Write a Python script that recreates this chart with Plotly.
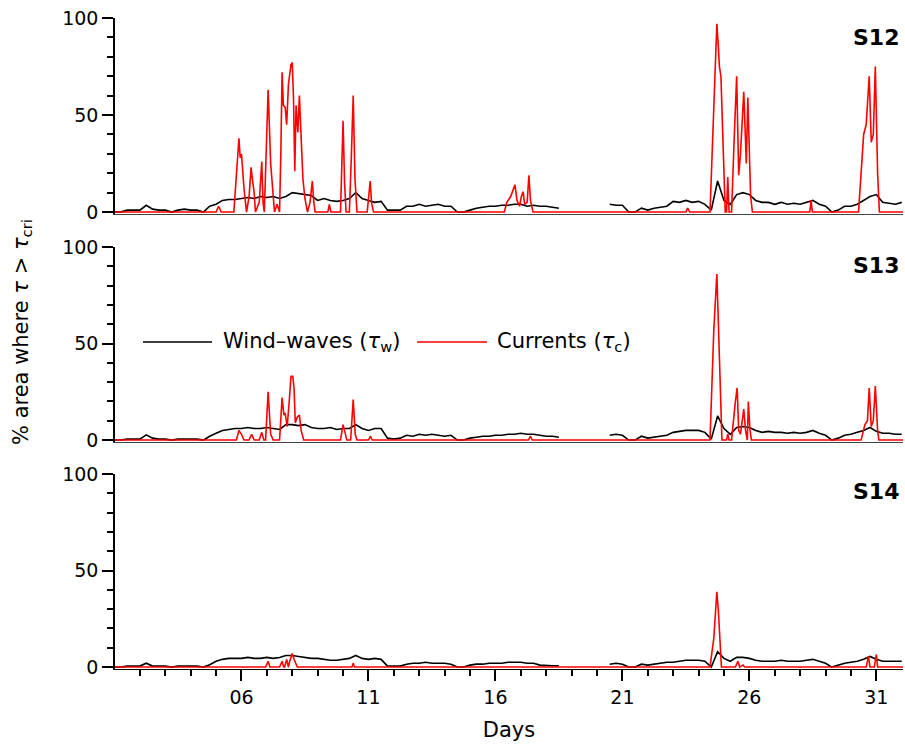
import plotly.graph_objects as go

# ---------------- data ----------------
# Black (wind-waves) series sampled every 6 h from day 1.00 to 32.00
wave_days = [1.0 + 0.25 * i for i in range(125)]

s12_wave = [0, 0, 1, 1,
            1, 3.5, 1.5, 1,
            1, 0, 1, 1.5,
            1, 1, 0, 3,
            4, 6, 6.5, 6.5,
            7, 7.5, 7, 8,
            7.5, 8, 7, 8,
            10, 9.5, 9, 8.5,
            6, 7, 6, 5.5,
            6, 7, 10, 7,
            6, 5, 5.5, 1,
            1, 1, 3, 3,
            4, 3, 3.5, 4,
            3, 3, 0, 0,
            1, 2, 2.5, 3,
            3, 3.5, 3.5, 4,
            4, 3, 3.5, 3,
            3, 2.5, 2, None,
            None, None, None, None,
            None, None, 4, 3.5,
            3.5, 0, 0, 2,
            1, 2, 2.5, 3,
            5.5, 5, 6, 5,
            5.5, 4, 1, 16,
            6, 4, 9, 10,
            9, 6, 5, 5,
            4, 5, 4, 4.5,
            4, 5, 6, 4,
            3, 0, 1, 3,
            3, 4, 6, 8,
            9, 5, 4.5, 4,
            5]

s13_wave = [0, 0, 0.5, 0.5,
            0.5, 2.7, 1, 0.5,
            0.5, 0, 0.5, 0.5,
            0.5, 0.5, 0, 2,
            3.5, 5, 5.5, 6,
            6, 6.5, 6, 6,
            6.5, 6, 5.5, 8,
            8, 7.5, 8, 6.5,
            6, 6, 6.5, 5.5,
            6, 6, 8, 6,
            5, 6, 6, 1,
            0.5, 1, 2.5, 2,
            3, 2.5, 3, 2.5,
            2, 2.5, 0, 0,
            1, 1.5, 2, 2,
            2.5, 2.5, 3, 3,
            3.5, 3, 3, 2.5,
            2, 2, 1.5, None,
            None, None, None, None,
            None, None, 2.5, 3,
            2.5, 0, 0, 2,
            1, 1.5, 2, 2.5,
            4, 4.5, 5, 5,
            5, 4, 0.5, 12.5,
            6, 3, 6.5, 7,
            6.5, 5, 4, 4.5,
            4, 4, 3.5, 4,
            3.5, 4, 5, 3.5,
            2.5, 0, 1, 2.5,
            3, 4, 5, 6.5,
            4.5, 3.5, 3.5, 3,
            3]

s14_wave = [0, 0, 0.5, 0.5,
            0.5, 2, 0.5, 0.5,
            0.5, 0, 0.5, 0.5,
            0.5, 0.5, 0, 1.2,
            3, 4, 4.5, 4.5,
            4.5, 5, 4.5, 4.5,
            5, 4.5, 5, 6,
            6, 5.5, 5, 4.5,
            4.5, 4, 3.5, 3.5,
            4, 4.5, 6, 4.5,
            4, 4.5, 4, 0.5,
            0.5, 0.5, 1.5, 2,
            2, 2.5, 2, 2,
            2, 1.5, 0, 0,
            1, 1.5, 1.5, 2,
            2, 2, 2.5, 2.5,
            2.5, 2, 2, 1,
            0.7, 0.7, 0.7, None,
            None, None, None, None,
            None, None, 1.5, 2,
            1.5, 0, 0, 1.5,
            1, 1.5, 2, 2.5,
            2.5, 3, 3.5, 3.5,
            3.5, 3, 0, 8,
            4.5, 3, 5, 5,
            4.5, 3.5, 3, 3,
            3, 3.5, 3, 3,
            3, 3.5, 4, 3,
            2, 0, 1, 2,
            2.5, 3, 4, 5.5,
            4, 3, 3, 3,
            3]

# Red (currents) series: day / value knots
s12_cur_day = [1.0, 5.0, 5.1, 5.2, 5.7, 5.8, 5.9, 5.95, 6.0, 6.1, 6.2, 6.3, 6.38, 6.42, 6.5, 6.55,
               6.7, 6.8, 6.85, 6.9, 6.95, 7.05, 7.15, 7.3, 7.4, 7.5, 7.55, 7.6, 7.65, 7.72, 7.78,
               7.85, 7.95, 8.0, 8.05, 8.1, 8.15, 8.22, 8.28, 8.35, 8.42, 8.5, 8.6, 8.7, 8.79, 8.85,
               8.9, 9.4, 9.46, 9.52, 9.9, 10.0, 10.06, 10.12, 10.25, 10.33, 10.4, 10.47, 10.55,
               10.95, 11.07, 11.12, 11.2, 16.35, 16.45, 16.6, 16.77, 16.85, 16.95, 17.02, 17.09,
               17.15, 17.25, 17.32, 17.38, 17.48, 23.5, 23.57, 23.65, 24.45, 24.6, 24.72, 24.78,
               24.82, 24.88, 24.95, 25.0, 25.05, 25.1, 25.15, 25.2, 25.3, 25.4, 25.5, 25.58, 25.65,
               25.78, 25.83, 25.88, 25.94, 26.0, 26.05, 26.12, 28.38, 28.43, 28.48, 30.3, 30.5,
               30.6, 30.72, 30.8, 30.88, 30.96, 31.05, 31.12, 32.1]
s12_cur_val = [0, 0, 3, 0, 0, 20, 38, 28, 30, 12, 0, 8, 23, 18, 10, 0,
               5, 26, 5, 0, 20, 63, 25, 0, 4, 0, 30, 72, 55, 54, 45,
               66, 76, 77, 58, 21, 55, 41, 60, 35, 17, 7, 0, 5, 16, 5,
               0, 0, 4, 0, 0, 47, 15, 0, 0, 30, 60, 17, 0,
               0, 16, 5, 0, 0, 5, 8, 14, 6, 3, 8, 10.5,
               4, 5, 19, 6, 0, 0, 2, 0, 0, 55, 97, 85,
               75, 70, 45, 28, 0, 0, 18, 0, 0, 37, 70, 19, 30,
               62, 43, 25, 59, 25, 8, 0, 0, 6, 0, 0, 40,
               45, 70, 36, 40, 75, 20, 0, 0]

s13_cur_day = [1.0, 5.8, 5.9, 6.0, 6.1, 6.3, 6.4, 6.5, 6.7, 6.8, 6.88, 6.95, 7.05, 7.15, 7.25,
               7.5, 7.6, 7.67, 7.72, 7.8, 7.88, 7.95, 8.02, 8.07, 8.12, 8.2, 8.28, 8.35, 8.45,
               9.9, 10.0, 10.08, 10.15, 10.3, 10.4, 10.48, 10.55, 11.0, 11.08, 11.15, 17.3,
               17.38, 17.45, 24.45, 24.6, 24.72, 24.8, 24.84, 24.88, 24.92, 25.1, 25.15, 25.2,
               25.3, 25.45, 25.52, 25.58, 25.65, 25.78, 25.85, 25.92, 25.96, 26.02, 26.08,
               30.4, 30.55, 30.65, 30.72, 30.8, 30.88, 30.96, 31.05, 31.1, 32.1]
s13_cur_val = [0, 0, 5, 3, 0, 0, 3, 0, 0, 4, 0, 0, 25, 3, 0,
               0, 22, 13, 14, 7, 20, 33, 33, 27, 9, 12, 13, 5, 0,
               0, 8, 3, 0, 0, 21, 3, 0, 0, 2, 0, 0,
               2, 0, 0, 57, 86, 50, 38, 27, 0, 0, 3, 0,
               0, 20, 27, 5, 3, 16, 5, 0, 20, 6, 0,
               0, 8, 10, 27, 7, 10, 28, 5, 0, 0]

s14_cur_day = [1.0, 6.95, 7.05, 7.12, 7.5, 7.6, 7.66, 7.7, 7.78, 7.85, 7.9, 8.0, 8.07, 8.15,
               8.2, 10.35, 10.4, 10.45, 24.45, 24.6, 24.72, 24.78, 24.84, 24.9, 25.45, 25.55,
               25.62, 25.75, 25.82, 30.6, 30.69, 30.75, 30.92, 31.0, 31.05, 32.1]
s14_cur_val = [0, 0, 3, 0, 0, 3, 0, 0, 4, 0, 3, 7, 4, 2,
               0, 0, 2, 0, 0, 15, 39, 29, 11, 0, 0, 3,
               0, 1, 0, 0, 5.6, 0, 0, 6.5, 0, 0]

panel_names = ["S12", "S13", "S14"]
major_days = [6, 11, 16, 21, 26, 31]
major_labels = ["06", "11", "16", "21", "26", "31"]
minor_days = [d for d in range(2, 32)]

series = [(s12_wave, s12_cur_day, s12_cur_val),
          (s13_wave, s13_cur_day, s13_cur_val),
          (s14_wave, s14_cur_day, s14_cur_val)]

# ---------------- layout geometry ----------------
W, H = 905, 748
L, R, T, B = 115, 2, 18, 79
plot_h = H - T - B          # 651
def py(p):                   # pixel y -> paper y
    return (H - B - p) / plot_h
def px(p):                   # pixel x -> paper x
    return (p - L) / (W - L - R)

domains = [[py(214), 1.0], [py(442), py(247)], [0.0, py(474)]]

FONT = "DejaVu Sans, Liberation Sans, Arial, sans-serif"

fig = go.Figure()
for i, (wave, cday, cval) in enumerate(series):
    xa = "x" if i == 0 else f"x{i+1}"
    ya = "y" if i == 0 else f"y{i+1}"
    fig.add_trace(go.Scatter(x=wave_days, y=wave, mode="lines", xaxis=xa, yaxis=ya,
                             line=dict(color="black", width=1.6), connectgaps=False,
                             name="Wind–waves", showlegend=False, hoverinfo="skip"))
    fig.add_trace(go.Scatter(x=cday, y=cval, mode="lines", xaxis=xa, yaxis=ya,
                             line=dict(color="#ff0000", width=1.6),
                             name="Currents", showlegend=False, hoverinfo="skip"))

xrange = [1.02, 32.05]
yaxis_common = dict(range=[-1, 100], tickvals=[0, 50, 100], showline=True, linecolor="black",
                    linewidth=1.5, ticks="outside", ticklen=11, tickwidth=1.5, tickcolor="black",
                    showgrid=False, zeroline=False,
                    tickfont=dict(family=FONT, size=19, color="black"),
                    minor=dict(tickmode="array", tickvals=[10, 20, 30, 40, 60, 70, 80, 90],
                               ticks="outside", ticklen=6, tickwidth=1.5, tickcolor="black"))

layout = dict(width=W, height=H, margin=dict(l=L, r=R, t=T, b=B),
              paper_bgcolor="white", plot_bgcolor="white", showlegend=False,
              font=dict(family=FONT, size=19, color="black"))

for i in range(3):
    xk = "xaxis" if i == 0 else f"xaxis{i+1}"
    yk = "yaxis" if i == 0 else f"yaxis{i+1}"
    xa = "x" if i == 0 else f"x{i+1}"
    ya = "y" if i == 0 else f"y{i+1}"
    xd = dict(range=xrange, domain=[0, 1], anchor=ya, showline=True, linecolor="#444444",
              linewidth=1.2, showgrid=False, zeroline=False)
    if i == 2:
        xd.update(tickmode="array", tickvals=major_days, ticktext=major_labels,
                  ticks="outside", ticklen=11, tickwidth=1.5, tickcolor="black", linecolor="black",
                  tickfont=dict(family=FONT, size=19, color="black"),
                  minor=dict(tickmode="array", tickvals=minor_days, ticks="outside",
                             ticklen=6, tickwidth=1.5, tickcolor="black"),
                  title=dict(text="Days", font=dict(family=FONT, size=21, color="black"),
                             standoff=15))
    else:
        xd.update(showticklabels=False, ticks="", matches="x3")
    layout[xk] = xd
    yd = dict(yaxis_common)
    yd.update(domain=domains[i], anchor=xa)
    layout[yk] = yd

fig.update_layout(**layout)

# panel labels
label_y = [37, 265, 492]
for name, yy in zip(panel_names, label_y):
    fig.add_annotation(text=f"<b>{name}</b>", xref="paper", yref="paper", x=px(901), y=py(yy),
                       xanchor="right", yanchor="middle", showarrow=False,
                       font=dict(family=FONT, size=22, color="black"))

# y axis title
fig.add_annotation(text="% area where <i>τ</i> > <i>τ</i><sub>cri</sub>", xref="paper", yref="paper",
                   x=px(22), y=py(332), xanchor="center", yanchor="middle", textangle=-90,
                   showarrow=False, font=dict(family=FONT, size=21, color="black"))

# legend (drawn inside the middle panel)
leg_y = py(342)
fig.add_shape(type="line", xref="paper", yref="paper", x0=px(143), x1=px(212), y0=leg_y, y1=leg_y,
              line=dict(color="black", width=1.6))
fig.add_annotation(text="Wind–waves (<i>τ</i><sub>w</sub>)", xref="paper", yref="paper",
                   x=px(221), y=leg_y, xanchor="left", yanchor="middle", showarrow=False,
                   font=dict(family=FONT, size=21, color="black"))
fig.add_shape(type="line", xref="paper", yref="paper", x0=px(417), x1=px(487), y0=leg_y, y1=leg_y,
              line=dict(color="#ff0000", width=1.6))
fig.add_annotation(text="Currents (<i>τ</i><sub>c</sub>)", xref="paper", yref="paper",
                   x=px(495), y=leg_y, xanchor="left", yanchor="middle", showarrow=False,
                   font=dict(family=FONT, size=21, color="black"))

fig.write_html("out.html", config={"displayModeBar": False},
               post_script="document.body.style.margin='0';document.body.style.overflow='hidden';")
